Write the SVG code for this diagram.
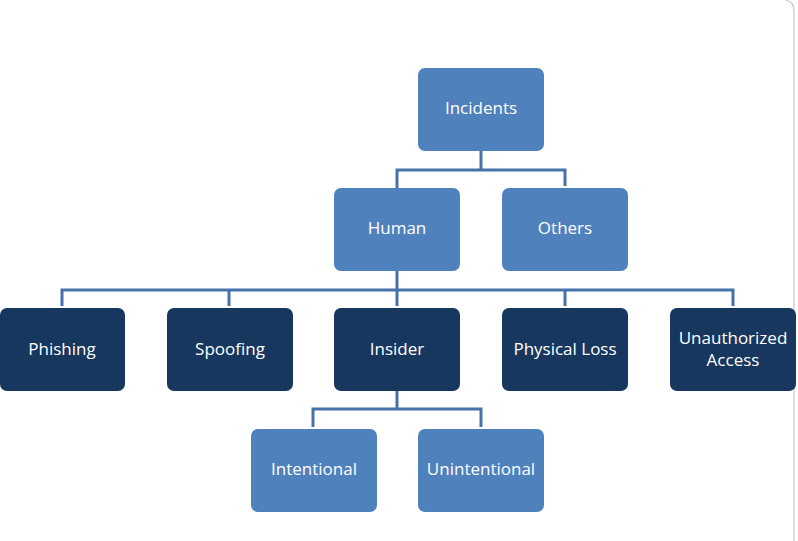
<svg xmlns="http://www.w3.org/2000/svg" width="798" height="541" viewBox="0 0 798 541">
<style>
.l{fill:#4F81BD}
.d{fill:#17375E}
.t{fill:#ffffff;font-family:"Open Sans","Liberation Sans",sans-serif;font-size:17px;text-anchor:middle}
.c{fill:none;stroke:#4672AA;stroke-width:3}
</style>
<rect width="798" height="541" fill="#ffffff"/>
<path d="M786 0.5 Q794 1 794 12 V541" fill="none" stroke="#c8c8c8" stroke-width="1.2"/>
<g id="connectors">
<path class="c" d="M481 151 V170 M397 188 V170 H565 V186"/>
<path class="c" d="M397 271 V290 M62 306 V290 H733 V306 M229 290 V306 M397 290 V306 M565 290 V306"/>
<path class="c" d="M397 391 V409 M313 427 V409 H481 V427"/>
</g>
<g id="incidents"><rect class="l" x="418" y="68" width="126" height="83" rx="7"/><text class="t" x="481" y="114">Incidents</text></g>
<g id="human"><rect class="l" x="334" y="188" width="126" height="83" rx="7"/><text class="t" x="397" y="234">Human</text></g>
<g id="others"><rect class="l" x="502" y="188" width="126" height="83" rx="7"/><text class="t" x="565" y="234">Others</text></g>
<g id="phishing"><rect class="d" x="0" y="308" width="125" height="83" rx="7"/><text class="t" x="62" y="355">Phishing</text></g>
<g id="spoofing"><rect class="d" x="167" y="308" width="126" height="83" rx="7"/><text class="t" x="230" y="355">Spoofing</text></g>
<g id="insider"><rect class="d" x="334" y="308" width="126" height="83" rx="7"/><text class="t" x="397" y="355">Insider</text></g>
<g id="physical-loss"><rect class="d" x="502" y="308" width="126" height="83" rx="7"/><text class="t" x="565" y="355">Physical Loss</text></g>
<g id="unauthorized-access"><rect class="d" x="670" y="308" width="126" height="83" rx="7"/><text class="t" x="733" y="344">Unauthorized</text><text class="t" x="733" y="366">Access</text></g>
<g id="intentional"><rect class="l" x="251" y="429" width="126" height="83" rx="7"/><text class="t" x="314" y="475">Intentional</text></g>
<g id="unintentional"><rect class="l" x="418" y="429" width="126" height="83" rx="7"/><text class="t" x="481" y="475">Unintentional</text></g>
</svg>
